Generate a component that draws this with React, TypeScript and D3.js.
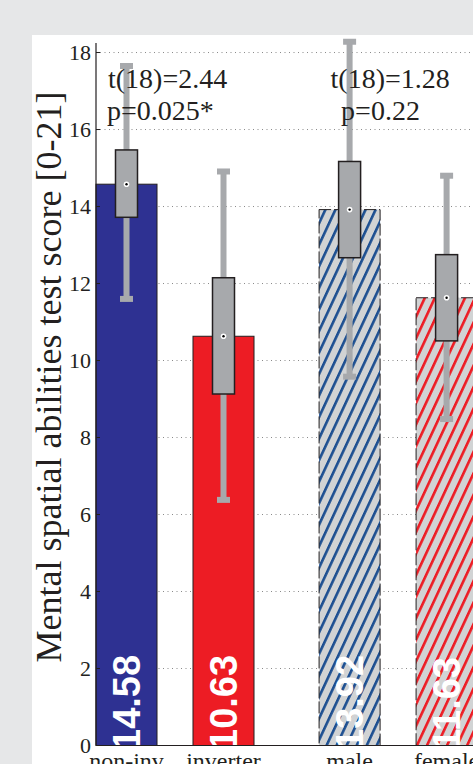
import React from "react";
import * as d3 from "d3";

// values
const categories = ["non-inv", "inverter", "male", "female"];
const catPositions = [1, 2, 3.3, 4.3];
const means = [14.58, 10.63, 13.92, 11.63];
const boxHigh = [15.47, 12.15, 15.17, 12.75];
const boxLow = [13.72, 9.13, 12.67, 10.51];
const whiskHigh = [17.65, 14.91, 18.28, 14.8];
const whiskLow = [11.6, 6.38, 9.58, 8.48];
const barFills = ["#2e3192", "#ed1c24", "url(#hatchBlue)", "url(#hatchRed)"];
const yTicks = [0, 2, 4, 6, 8, 10, 12, 14, 16, 18];
const statLines1 = ["t(18)=2.44", "p=0.025*"];
const statLines2 = ["t(18)=1.28", "p=0.22"];

const W = 473;
const H = 764;
const serif = "'Liberation Serif', 'Times New Roman', serif";
const sans = "'Liberation Sans', Arial, sans-serif";
const boxGrey = "#a7a9ac";
const ink = "#231f20";

export default function App() {
  const x = d3.scaleLinear().domain([1, 2]).range([126.5, 223.5]);
  const y = d3.scaleLinear().domain([0, 18.25]).range([745.5, 42.9]);
  const axisX = 96;
  const barW = x(1.629) - x(1);
  const boxW = 22;
  const capW = 13;

  return (
    <svg
      width={W}
      height={H}
      style={{ position: "absolute", left: 0, top: 0, display: "block" }}
    >
      <defs>
        <pattern id="hatchBlue" patternUnits="userSpaceOnUse" width={9.1} height={10} patternTransform="rotate(25)">
          <rect width={9.1} height={10} fill="#d1d3d4" />
          <rect width={2.6} height={10} fill="#1d4f91" />
        </pattern>
        <pattern id="hatchRed" patternUnits="userSpaceOnUse" width={9.1} height={10} patternTransform="rotate(25)">
          <rect width={9.1} height={10} fill="#d1d3d4" />
          <rect width={2.6} height={10} fill="#ed1c24" />
        </pattern>
        <clipPath id="plotClip">
          <rect x={axisX} y={0} width={W - axisX} height={y(0)} />
        </clipPath>
      </defs>

      <rect width={W} height={H} fill="#e6e7e8" />
      <rect x={32} y={35} width={W - 32} height={H - 35} fill="#ffffff" />

      {/* grid */}
      {yTicks.filter((t) => t > 0).map((t) => (
        <line key={"g" + t} x1={axisX + 4} x2={W} y1={y(t)} y2={y(t)}
          stroke="#8a8a8a" strokeWidth={1} strokeDasharray="1 3.5" />
      ))}

      {/* bars */}
      {means.map((m, i) => (
        <rect key={"b" + i} x={x(catPositions[i]) - barW / 2} y={y(m)} width={barW} height={y(0) - y(m)}
          fill={barFills[i]} stroke={ink} strokeWidth={1}
          strokeDasharray={i >= 2 ? "12 3" : undefined} />
      ))}

      {/* value labels inside the bars */}
      <g clipPath="url(#plotClip)">
        {means.map((m, i) => {
          const cx = x(catPositions[i]) + 13.5;
          const cy = 750;
          return (
            <text key={"v" + i} x={cx} y={cy} transform={`rotate(-90 ${cx} ${cy})`}
              fill="#ffffff" fontFamily={sans} fontWeight="bold" fontSize={38}>
              {m.toFixed(2)}
            </text>
          );
        })}
      </g>

      {/* whiskers and boxes */}
      {means.map((m, i) => {
        const cx = x(catPositions[i]);
        return (
          <g key={"w" + i}>
            <line x1={cx} x2={cx} y1={y(whiskLow[i])} y2={y(whiskHigh[i])} stroke={boxGrey} strokeWidth={6} />
            <rect x={cx - capW / 2} y={y(whiskHigh[i]) - 3} width={capW} height={6} fill={boxGrey} />
            <rect x={cx - capW / 2} y={y(whiskLow[i]) - 3} width={capW} height={6} fill={boxGrey} />
            <rect x={cx - boxW / 2} y={y(boxHigh[i])} width={boxW} height={y(boxLow[i]) - y(boxHigh[i])}
              fill={boxGrey} stroke={ink} strokeWidth={1.5} />
            <circle cx={cx} cy={y(m)} r={2.8} fill="#ffffff" />
            <circle cx={cx} cy={y(m)} r={1.2} fill="#000000" />
          </g>
        );
      })}

      {/* axes */}
      <line x1={axisX} x2={axisX} y1={y(18.25)} y2={y(0)} stroke={ink} strokeWidth={1.2} />
      <line x1={axisX} x2={W} y1={y(0)} y2={y(0)} stroke={ink} strokeWidth={1.2} />
      {yTicks.map((t) => (
        <g key={"t" + t}>
          <line x1={axisX} x2={axisX + 4} y1={y(t)} y2={y(t)} stroke={ink} strokeWidth={1} />
          <text x={axisX - 5} y={y(t)} dy="0.33em" textAnchor="end" fontFamily={serif} fontSize={22} fill={ink}>
            {t}
          </text>
        </g>
      ))}

      {/* category labels */}
      {categories.map((c, i) => (
        <text key={"c" + i} x={x(catPositions[i])} y={769} textAnchor="middle" fontFamily={serif} fontSize={24} fill={ink}>
          {c}
        </text>
      ))}

      {/* y axis title */}
      <text x={61} y={377} transform="rotate(-90 61 377)" textAnchor="middle" fontFamily={serif} fontSize={36} fill={ink}>
        Mental spatial abilities test score [0-21]
      </text>

      {/* t-test annotations */}
      <text x={x(1) - 18.5} y={y(17.08)} fontFamily={serif} fontSize={28} fill={ink}>{statLines1[0]}</text>
      <text x={x(1) - 19.5} y={y(16.25)} fontFamily={serif} fontSize={28} fill={ink}>{statLines1[1]}</text>
      <text x={x(3.3) - 19} y={y(17.08)} fontFamily={serif} fontSize={28} fill={ink}>{statLines2[0]}</text>
      <text x={x(3.3) - 8.5} y={y(16.25)} fontFamily={serif} fontSize={28} fill={ink}>{statLines2[1]}</text>
    </svg>
  );
}
